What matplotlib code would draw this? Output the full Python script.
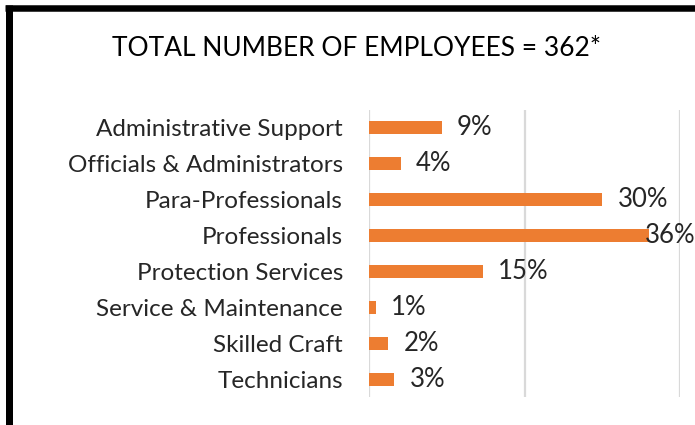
import matplotlib
matplotlib.use("Agg")
import matplotlib.pyplot as plt
from matplotlib.lines import Line2D

categories = ["Administrative Support", "Officials & Administrators", "Para-Professionals",
              "Professionals", "Protection Services", "Service & Maintenance",
              "Skilled Craft", "Technicians"]
values = [9.3, 4.0, 30.0, 36.0, 14.6, 0.8, 2.4, 3.2]
labels = ["9%", "4%", "30%", "36%", "15%", "1%", "2%", "3%"]
title = "TOTAL NUMBER OF EMPLOYEES = 362*"

W, H = 695, 425
fig = plt.figure(figsize=(W / 100, H / 100), dpi=100)
plt.rcParams['font.family'] = ['Lato', 'DejaVu Sans']

ax = fig.add_axes([369.5 / W, 1 - 397 / H, (680 - 369.5) / W, (397 - 110) / H])
ypos = list(range(len(categories)))
ax.barh(ypos, values, height=0.36, color="#ED7D31", zorder=3)
ax.set_xlim(0, 40)
ax.set_ylim(len(categories) - 0.5, -0.5)
ax.set_xticks([0, 20, 40])
ax.xaxis.grid(True, color="#D9D9D9", linewidth=1.6, zorder=0)
ax.tick_params(axis="x", length=0, labelbottom=False)
ax.tick_params(axis="y", length=0, pad=19)
ax.set_yticks(ypos)
ax.set_yticklabels(categories, fontsize=17.5, color="#262626")
for s in ax.spines.values():
    s.set_visible(False)

for y, v, lab in zip(ypos, values, labels):
    if v > 34:
        ax.annotate(lab, xy=(v, y), xytext=(-3, 0), textcoords="offset points",
                    va="center", ha="left", fontsize=18.5, color="#262626",
                    annotation_clip=False, zorder=4)
    else:
        ax.annotate(lab, xy=(v, y), xytext=(11, 0), textcoords="offset points",
                    va="center", ha="left", fontsize=18.5, color="#262626",
                    annotation_clip=False, zorder=4)

fig.text(357 / W, 1 - 48 / H, title, ha="center", va="center", fontsize=19, color="#000000")

# border
fig.add_artist(Line2D([8.5 / W, 8.5 / W], [0, 1 - 5 / H], transform=fig.transFigure,
                      color="black", linewidth=7 * 0.72, solid_capstyle="butt"))
fig.add_artist(Line2D([5 / W, 1], [1 - 8.2 / H, 1 - 8.2 / H], transform=fig.transFigure,
                      color="black", linewidth=6.5 * 0.72, solid_capstyle="butt"))

fig.savefig("out.png", dpi=100)
